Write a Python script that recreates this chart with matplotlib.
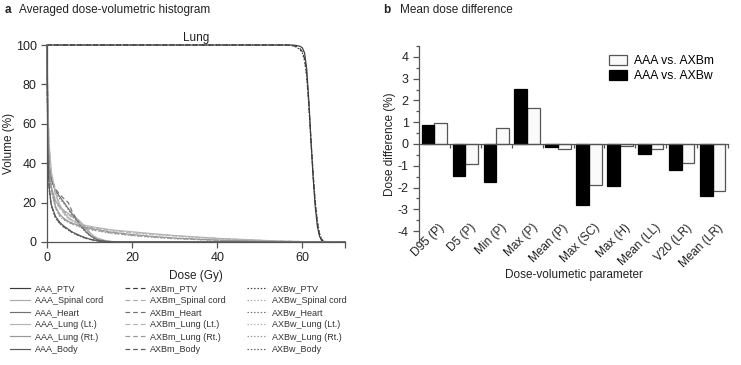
import matplotlib
matplotlib.use("Agg")
import matplotlib.pyplot as plt
from matplotlib.transforms import ScaledTranslation

plt.rcParams['font.family'] = ['Liberation Sans', 'DejaVu Sans']
TXT = '#222222'

# ---------------- Panel a data (DVH) ----------------
dose_ptv = [0, 56, 57.5, 58.5, 59.5, 60, 60.5, 61, 61.5, 62, 62.5, 63, 63.5, 64, 64.5, 65, 70]
ptv_aaa  = [100, 100, 100, 99.8, 99.3, 98.5, 96, 88, 72, 52, 33, 18, 8, 3, 0.8, 0, 0]
ptv_axbm = [100, 100, 99.8, 99.3, 98, 96.5, 93, 85, 70, 52, 35, 20, 10, 4, 1.2, 0.2, 0]
ptv_axbw = [100, 100, 99.7, 99, 97.5, 96, 92, 84, 69, 51, 35, 21, 11, 4.5, 1.5, 0.3, 0]

dose_low = [0, 0.2, 0.5, 1, 2, 3, 4, 5, 6, 7, 8, 9, 10, 11, 12, 14, 16, 20, 70]
cord_aaa  = [100, 60, 40, 28, 21, 18, 16, 14.5, 13, 12, 10, 7.5, 5, 3, 1.8, 0.6, 0.1, 0, 0]
cord_axbm = [100, 58, 38, 27, 20, 17.5, 15.5, 14, 12.5, 11.5, 9.5, 7, 4.6, 2.8, 1.6, 0.5, 0.1, 0, 0]
cord_axbw = [100, 57, 37, 26, 20, 17, 15, 13.5, 12.5, 11, 9, 6.5, 4.2, 2.5, 1.4, 0.4, 0.1, 0, 0]
heart_aaa  = [100, 55, 38, 32, 26, 23, 20, 17, 14, 11, 8, 5.5, 3.5, 2, 1, 0.3, 0, 0, 0]
heart_axbm = [100, 56, 39, 33, 27, 24, 22, 20, 15, 11.5, 8.5, 5.8, 3.6, 2.1, 1.1, 0.3, 0, 0, 0]
heart_axbw = [100, 54, 37, 31, 25, 22, 19.5, 16.5, 13.5, 10.5, 7.5, 5.2, 3.3, 1.9, 0.9, 0.3, 0, 0, 0]
body_aaa  = [100, 45, 28, 19, 13, 10, 8, 6.5, 5, 4, 3, 2.2, 1.5, 1, 0.6, 0.2, 0.05, 0, 0]
body_axbm = [100, 44, 27, 18.5, 12.5, 9.5, 7.6, 6.2, 4.8, 3.8, 2.8, 2, 1.4, 0.9, 0.5, 0.2, 0.05, 0, 0]
body_axbw = [100, 43, 27, 18, 12, 9.3, 7.4, 6, 4.6, 3.6, 2.7, 1.9, 1.3, 0.9, 0.5, 0.2, 0.05, 0, 0]

dose_lung = [0, 0.2, 0.5, 1, 2, 3, 4, 5, 6, 8, 10, 15, 20, 25, 30, 35, 40, 45, 50, 55, 60, 65, 70]
lungl_aaa  = [100, 70, 50, 36, 25, 19, 15, 12.5, 11, 9, 8, 6.2, 5.2, 4.2, 3.3, 2.6, 1.9, 1.4, 0.9, 0.5, 0.2, 0, 0]
lungl_axbm = [100, 69, 49, 35, 24, 18.5, 14.5, 12, 10.6, 8.7, 7.6, 5.8, 4.8, 3.9, 3.1, 2.4, 1.8, 1.3, 0.8, 0.5, 0.2, 0, 0]
lungl_axbw = [100, 68, 48, 34, 23.5, 18, 14, 11.8, 10.4, 8.5, 7.4, 5.6, 4.6, 3.7, 2.9, 2.2, 1.7, 1.2, 0.8, 0.4, 0.2, 0, 0]
lungr_aaa  = [100, 60, 40, 28, 18, 14, 12, 10.5, 9.5, 8, 7, 5, 3.8, 2.8, 2, 1.5, 1, 0.7, 0.4, 0.2, 0.05, 0, 0]
lungr_axbm = [100, 59, 39, 27, 17.5, 13.5, 11.6, 10.2, 9.2, 7.7, 6.6, 4.6, 3.4, 2.5, 1.8, 1.3, 0.9, 0.6, 0.35, 0.15, 0.05, 0, 0]
lungr_axbw = [100, 58, 38, 26, 17, 13, 11.2, 9.9, 8.9, 7.4, 6.3, 4.4, 3.2, 2.3, 1.6, 1.2, 0.8, 0.5, 0.3, 0.15, 0.05, 0, 0]

structures = ['PTV', 'Spinal cord', 'Heart', 'Lung (Lt.)', 'Lung (Rt.)', 'Body']
algorithms = ['AAA', 'AXBm', 'AXBw']
dvh = {
    'PTV':         (dose_ptv,  [ptv_aaa, ptv_axbm, ptv_axbw]),
    'Spinal cord': (dose_low,  [cord_aaa, cord_axbm, cord_axbw]),
    'Heart':       (dose_low,  [heart_aaa, heart_axbm, heart_axbw]),
    'Lung (Lt.)':  (dose_lung, [lungl_aaa, lungl_axbm, lungl_axbw]),
    'Lung (Rt.)':  (dose_lung, [lungr_aaa, lungr_axbm, lungr_axbw]),
    'Body':        (dose_low,  [body_aaa, body_axbm, body_axbw]),
}
struct_colors = {'PTV': '#3a3a3a', 'Spinal cord': '#ababab', 'Heart': '#707070',
                 'Lung (Lt.)': '#b4b4b4', 'Lung (Rt.)': '#989898', 'Body': '#5a5a5a'}
algo_styles = {'AAA': '-', 'AXBm': (0, (4, 2.5)), 'AXBw': (0, (1.2, 1.6))}

# ---------------- Panel b data ----------------
params = ['D95 (P)', 'D5 (P)', 'Min (P)', 'Max (P)', 'Mean (P)', 'Max (SC)',
          'Max (H)', 'Mean (LL)', 'V20 (LR)', 'Mean (LR)']
diff_axbm = [0.97, -0.94, 0.74, 1.67, -0.21, -1.88, -0.08, -0.21, -0.87, -2.14]
diff_axbw = [0.86, -1.47, -1.75, 2.54, -0.12, -2.80, -1.93, -0.46, -1.20, -2.37]

# ---------------- Figure ----------------
W, H = 741, 365
fig = plt.figure(figsize=(W / 100, H / 100), dpi=100)

def fr(x0, y0, x1, y1):
    return [x0 / W, 1 - y1 / H, (x1 - x0) / W, (y1 - y0) / H]

# Panel a
ax = fig.add_axes(fr(47, 45, 345, 242))
for a in algorithms[::-1]:
    for s in structures:
        d, vols = dvh[s]
        v = vols[algorithms.index(a)]
        ax.plot(d, v, color=struct_colors[s], linestyle=algo_styles[a], lw=0.85,
                label=f'{a}_{s}', clip_on=False)
ax.set_xlim(0, 70)
ax.set_ylim(0, 100)
ax.set_xticks([0, 20, 40, 60, 70], ['0', '20', '40', '60', ''])
ax.set_yticks([0, 20, 40, 60, 80, 100])
for sp in ['top', 'right']:
    ax.spines[sp].set_visible(False)
for sp in ['left', 'bottom']:
    ax.spines[sp].set_color('#555555')
    ax.spines[sp].set_linewidth(0.9)
ax.tick_params(colors='#555555', labelcolor=TXT, labelsize=9, length=4, width=0.9)
ax.set_xlabel('Dose (Gy)', fontsize=8.5, color=TXT)
ax.xaxis.set_label_coords(0.5, -0.14)
ax.set_ylabel('Volume (%)', fontsize=8.5, color=TXT)
ax.yaxis.set_label_coords(-0.108, 0.5)
ax.set_title('Lung', fontsize=8.5, color=TXT, pad=3)

handles, labels = ax.get_legend_handles_labels()
order = []
for a in algorithms:
    for s in structures:
        order.append(labels.index(f'{a}_{s}'))
fig.legend([handles[i] for i in order], [labels[i] for i in order], ncol=3,
           loc='upper left', bbox_to_anchor=(10 / W, 1 - 284 / H), frameon=False,
           fontsize=6.5, handlelength=2.2, handletextpad=0.6, columnspacing=2.35,
           labelspacing=0.35, borderpad=0, borderaxespad=0, labelcolor='#333333')

fig.text(5 / W, 1 - 10 / H, 'a', fontsize=8.5, fontweight='bold', color=TXT, va='center')
fig.text(19 / W, 1 - 10 / H, 'Averaged dose-volumetric histogram', fontsize=8.5,
         color=TXT, va='center')
fig.text(383 / W, 1 - 10 / H, 'b', fontsize=8.5, fontweight='bold', color=TXT, va='center')
fig.text(400 / W, 1 - 10 / H, 'Mean dose difference', fontsize=8.5, color=TXT, va='center')

# Panel b
bx = fig.add_axes(fr(419, 46, 728, 242))
pos = list(range(1, len(params) + 1))
bw = 0.41
bx.bar([p + 0.205 for p in pos], diff_axbm, width=bw, color='#fafafa',
       edgecolor='#555555', linewidth=0.9, label='AAA vs. AXBm')
bx.bar([p - 0.205 for p in pos], diff_axbw, width=bw, color='black',
       edgecolor='black', linewidth=0.9, label='AAA vs. AXBw')
bx.set_xlim(0.5, 10.5)
bx.set_ylim(-4.5, 4.5)
bx.set_yticks([-4, -3, -2, -1, 0, 1, 2, 3, 4])
bx.set_yticks([-4.5, -3.5, -2.5, -1.5, -0.5, 0.5, 1.5, 2.5, 3.5, 4.5], minor=True)
for sp in ['top', 'right']:
    bx.spines[sp].set_visible(False)
bx.spines['bottom'].set_position(('data', 0))
for sp in ['left', 'bottom']:
    bx.spines[sp].set_color('#555555')
    bx.spines[sp].set_linewidth(0.9)
bx.set_xticks(pos, params, rotation=45, ha='right', va='center', rotation_mode='anchor')
bx.set_xticks([p + 0.5 for p in pos], minor=True)
bx.tick_params(axis='x', which='major', length=0, pad=59, labelsize=8.5, labelcolor=TXT)
bx.tick_params(axis='x', which='minor', length=3, width=0.9, color='#555555')
bx.tick_params(axis='y', which='major', length=4, width=0.9, color='#555555',
               labelsize=9, labelcolor=TXT)
bx.tick_params(axis='y', which='minor', length=2.5, width=0.9, color='#555555')
for lab in bx.get_xticklabels():
    lab.set_transform(lab.get_transform() + ScaledTranslation(0.085, 0, fig.dpi_scale_trans))
bx.set_yticklabels(['-4', '-3', '-2', '-1', '0', '1', '2', '3', '4'])
bx.set_ylabel('Dose difference (%)', fontsize=8.5, color=TXT)
bx.yaxis.set_label_coords(-0.075, 0.5)
bx.set_xlabel('Dose-volumetic parameter', fontsize=8.5, color=TXT)
bx.xaxis.set_label_coords(0.5, -0.14)
bx.legend(loc='upper left', bbox_to_anchor=(190 / 309, 1 - 9 / 196), frameon=False,
          fontsize=8.7, handlelength=1.5, handleheight=0.9, handletextpad=0.6,
          labelspacing=0.25, borderpad=0, borderaxespad=0)

fig.savefig('out.png', dpi=100)
